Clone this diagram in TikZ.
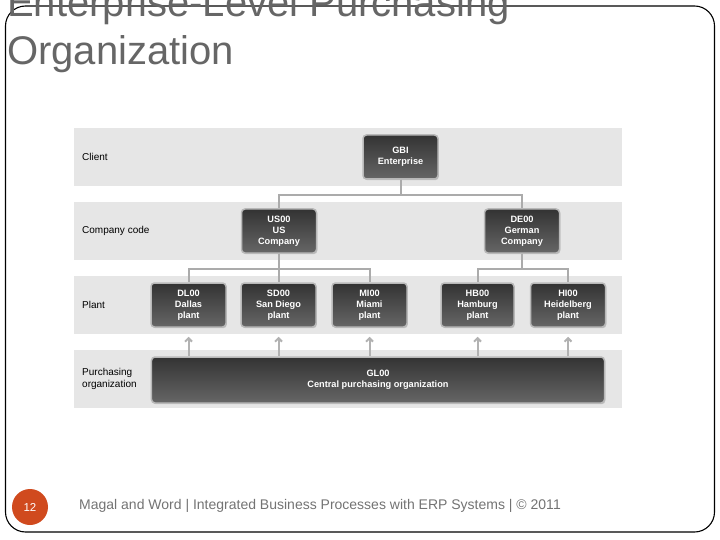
\documentclass[tikz,border=0pt]{standalone}
\usepackage{fontspec}
\setmainfont{Liberation Sans}
\usetikzlibrary{arrows.meta,shadows}
\definecolor{slidegray}{HTML}{666666}
\definecolor{bandgray}{HTML}{E6E6E6}
\definecolor{pagenum}{HTML}{D04A1E}
\begin{document}
\begin{tikzpicture}[
	x=1bp, y=-1bp,
	band/.style={fill=bandgray, draw=none, minimum width=548bp, minimum height=58bp, inner sep=0pt},
	unit/.style={draw=black!28, line width=1.5bp, rounded corners=3.5bp, top color=black!80, bottom color=black!60,
		drop shadow={opacity=0.35, shadow xshift=0.8bp, shadow yshift=-1.2bp},
		text=white, font=\fontsize{9.2bp}{10.8bp}\selectfont\bfseries, align=center,
		minimum width=75bp, minimum height=44bp, inner sep=1bp},
	level/.style={anchor=west, align=left, font=\fontsize{10bp}{11.5bp}\selectfont, text=black, inner sep=0pt},
	link/.style={draw=black!33, line width=2bp},
	feed/.style={draw=black!30, line width=2bp, -{Straight Barb[length=3.5bp,width=7bp]}, shorten >=9bp}
	]
	\useasboundingbox (0,0) rectangle (720,540);
	\clip (0,0) rectangle (720,540);
	% slide
	\path[draw, line width=1.1bp, rounded corners=20bp] (5.5,6) rectangle (714.5,532);
	\node[anchor=base west, inner sep=0pt, text=slidegray, font=\fontsize{40bp}{40bp}\selectfont] (ttl1) at (7,17) {Enterprise-Level Purchasing};
	\node[anchor=base west, inner sep=0pt, text=slidegray, font=\fontsize{40bp}{40bp}\selectfont] (ttl2) at (7,65) {Organization};
	% bands
	\node[band] (b1) at (348,157) {};
	\node[band] (b2) at (348,231) {};
	\node[band] (b3) at (348,305) {};
	\node[band] (b4) at (348,379) {};
	\node[level] (l1) at (82,157) {Client};
	\node[level] (l2) at (82,231) {Company code};
	\node[level] (l3) at (82,305) {Plant};
	\node[level] (l4) at (82,379) {Purchasing\\organization};
	% units
	\node[unit]  (gbi) at (400.5,157)  {GBI\\Enterprise};
	\node[unit]  (us) at (279,231)  {US00\\US\\Company};
	\node[unit]  (de) at (522,231)  {DE00\\German\\Company};
	\node[unit]  (dl) at (188.5,305)  {DL00\\Dallas\\plant};
	\node[unit]  (sd) at (278.5,305)  {SD00\\San Diego\\plant};
	\node[unit]  (mi) at (369.5,305)  {MI00\\Miami\\plant};
	\node[unit, minimum width=73bp]  (hb) at (477.5,305)  {HB00\\Hamburg\\plant};
	\node[unit]  (hi) at (568,305)  {HI00\\Heidelberg\\plant};
	\node[unit, minimum width=453bp, minimum height=46bp]  (gl) at (378,380)  {GL00\\Central purchasing organization};
	% tree
	\path[link]  (gbi.south) -- ++(0,15) -| (us.north);
	\path[link]  (gbi.south) -- ++(0,15) -| (de.north);
	\path[link]  (us.south) -- ++(0,15) -| (dl.north);
	\path[link]  (us.south) -- ++(0,15) -| (sd.north);
	\path[link]  (us.south) -- ++(0,15) -| (mi.north);
	\path[link]  (de.south) -- ++(0,15) -| (hb.north);
	\path[link]  (de.south) -- ++(0,15) -| (hi.north);
	\path[feed]  (gl.north -| dl) -- (dl.south);
	\path[feed]  (gl.north -| sd) -- (sd.south);
	\path[feed]  (gl.north -| mi) -- (mi.south);
	\path[feed]  (gl.north -| hb) -- (hb.south);
	\path[feed]  (gl.north -| hi) -- (hi.south);
	% footer
	\node[circle, fill=pagenum, minimum size=36bp, inner sep=0pt, text=white, font=\fontsize{11.5bp}{11.5bp}\selectfont] (pg) at (30,507) {12};
	\node[anchor=base west, inner sep=0pt, text=black!55, font=\fontsize{14bp}{14bp}\selectfont] (foot) at (79,509) {Magal and Word | Integrated Business Processes with ERP Systems | © 2011};
\end{tikzpicture}
\end{document}
